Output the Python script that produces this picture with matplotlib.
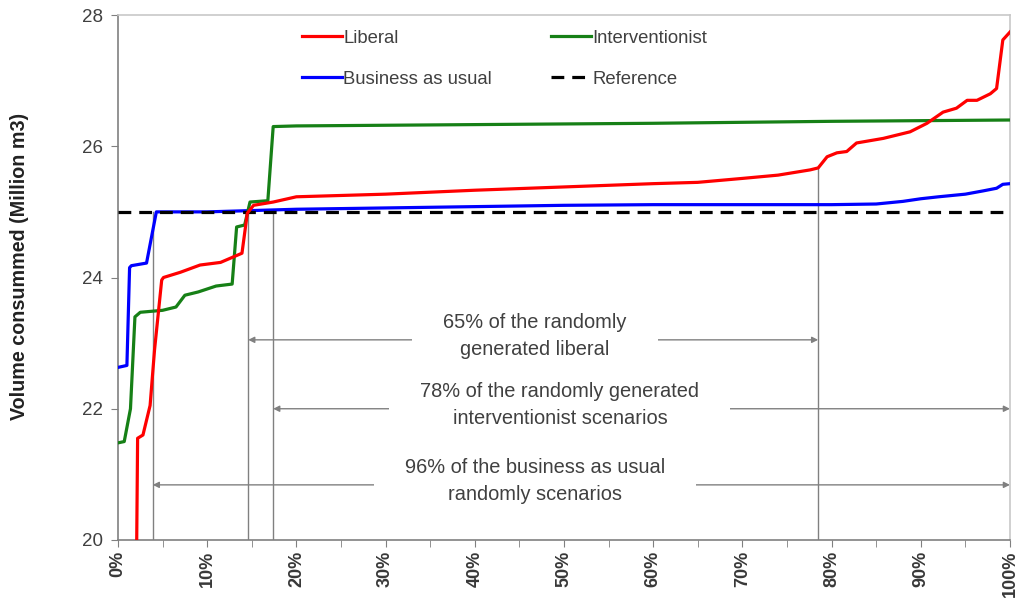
import matplotlib
matplotlib.use("Agg")
from matplotlib import pyplot as plt
from matplotlib.ticker import MultipleLocator, FuncFormatter

plt.rcParams['font.family'] = ['Liberation Sans', 'DejaVu Sans']

# values (x in % of scenarios, y in million m3)
liberal_x = [2.1, 2.2, 2.8, 3.6, 4.1, 4.9, 5.1, 7.0, 9.2, 11.5, 13.9, 14.5, 15.2, 17.4, 20, 30, 40, 50,
             60, 65, 70, 74, 77.6, 78.5, 79.5, 80.6, 81.7, 82.8, 85.8, 88.8, 90.7, 92.5, 94, 95.2,
             96.3, 97.8, 98.5, 99.2, 100]
liberal_y = [20.0, 21.55, 21.6, 22.05, 22.9, 23.96, 24.0, 24.08, 24.19, 24.23, 24.37, 24.98, 25.1, 25.15,
             25.23, 25.27, 25.33, 25.38, 25.43, 25.45, 25.51, 25.56, 25.64, 25.67, 25.84, 25.9, 25.92,
             26.05, 26.12, 26.22, 26.35, 26.52, 26.58, 26.7, 26.7, 26.8, 26.88, 27.62, 27.74]

interv_x = [0, 0.7, 1.4, 1.9, 2.5, 5, 6.5, 7.5, 9, 11, 12.8, 13.3, 14.2, 14.8, 16.8, 17.4, 20, 40, 60, 80, 100]
interv_y = [21.48, 21.5, 22.0, 23.4, 23.47, 23.5, 23.55, 23.73, 23.78, 23.87, 23.9, 24.77, 24.8, 25.15,
            25.17, 26.3, 26.31, 26.33, 26.35, 26.38, 26.4]

bau_x = [0, 1.0, 1.3, 1.5, 3.2, 4.3, 10, 15, 20, 30, 40, 50, 60, 70, 80, 85, 88, 90, 92, 95, 97, 98.5, 99.2, 100]
bau_y = [22.63, 22.66, 24.15, 24.18, 24.22, 25.0, 25.0, 25.02, 25.04, 25.06, 25.08, 25.1, 25.11, 25.11,
         25.11, 25.12, 25.16, 25.2, 25.23, 25.27, 25.32, 25.36, 25.42, 25.43]

reference = 25.0

# vertical markers: x position and the height they reach
marker_x = [3.9, 14.6, 17.4, 78.5]
marker_top = [25.0, 25.0, 25.0, 25.67]

# horizontal spans with their labels
span_start = [14.6, 17.4, 3.9]
span_end = [78.5, 100, 100]
span_y = [23.05, 22.0, 20.84]
span_text = ["65% of the randomly\ngenerated liberal",
             "78% of the randomly generated\ninterventionist scenarios",
             "96% of the business as usual\nrandomly scenarios"]
span_text_x = [46.75, 49.55, 46.75]

fig = plt.figure(figsize=(10.18, 6.03), dpi=100)
ax = fig.add_axes([0.1159, 0.1045, 0.8762, 0.8706])

grey = '#808080'
txt = '#404040'

for x, top in zip(marker_x, marker_top):
    ax.plot([x, x], [20, top], color=grey, lw=1.0, zorder=1)

for x0, x1, y, s, tx in zip(span_start, span_end, span_y, span_text, span_text_x):
    ax.annotate('', xy=(x0, y), xytext=(x1, y),
                arrowprops=dict(arrowstyle='<|-|>', color=grey, lw=1.0,
                                mutation_scale=9, shrinkA=0, shrinkB=0), zorder=1)
    # white box to break the arrow line, then the text itself on top
    ax.text(tx, y + 0.06, s, ha='center', va='center', fontsize=14.4, color='none', linespacing=1.5,
            bbox=dict(facecolor='white', edgecolor='none', boxstyle='square,pad=1.55'), zorder=1.5)
    ax.text(tx, y + 0.06, s, ha='center', va='center', fontsize=14.4, color=txt, linespacing=1.5,
            zorder=2)

ax.plot(liberal_x, liberal_y, color='#ff0000', lw=2.3, label='Liberal', zorder=4)
ax.plot(bau_x, bau_y, color='#0000ff', lw=2.3, label='Business as usual', zorder=3)
ax.plot(interv_x, interv_y, color='#168016', lw=2.3, label='Interventionist', zorder=3)
ax.plot([0, 100], [reference, reference], color='black', lw=2.3, ls=(0, (4, 2.5)),
        label='Reference', zorder=3)

ax.set_xlim(0, 100)
ax.set_ylim(20, 28)
ax.xaxis.set_major_locator(MultipleLocator(10))
ax.xaxis.set_minor_locator(MultipleLocator(5))
ax.yaxis.set_major_locator(MultipleLocator(2))
ax.xaxis.set_major_formatter(FuncFormatter(lambda v, p: '%d%%' % v))
ax.tick_params(axis='x', which='both', length=5, color=grey, labelrotation=90, pad=3)
ax.tick_params(axis='y', length=5, color=grey, pad=6)
for lab in ax.get_xticklabels():
    lab.set_fontsize(13)
    lab.set_fontweight('bold')
    lab.set_color('#383838')
for lab in ax.get_yticklabels():
    lab.set_fontsize(13.5)
    lab.set_color('#404040')

ax.set_ylabel('Volume consummed (Million m3)', fontsize=14.2, fontweight='bold', color='#222222', va='center')
ax.yaxis.set_label_coords(-0.110, 0.521)

for side in ['top', 'right']:
    ax.spines[side].set_color('#c8c8c8')
for side in ['left', 'bottom']:
    ax.spines[side].set_color(grey)
for sp in ax.spines.values():
    sp.set_linewidth(1.2)

handles, labels = ax.get_legend_handles_labels()
leg = ax.legend(handles, labels, ncol=2,
                loc='upper left', bbox_to_anchor=(0.206, 0.972), frameon=False,
                fontsize=13.3, handlelength=2.16, handletextpad=0.08, columnspacing=3.2,
                labelspacing=1.3, borderpad=0, borderaxespad=0)
for t in leg.get_texts():
    t.set_color(txt)

fig.savefig('out.png', dpi=100)
